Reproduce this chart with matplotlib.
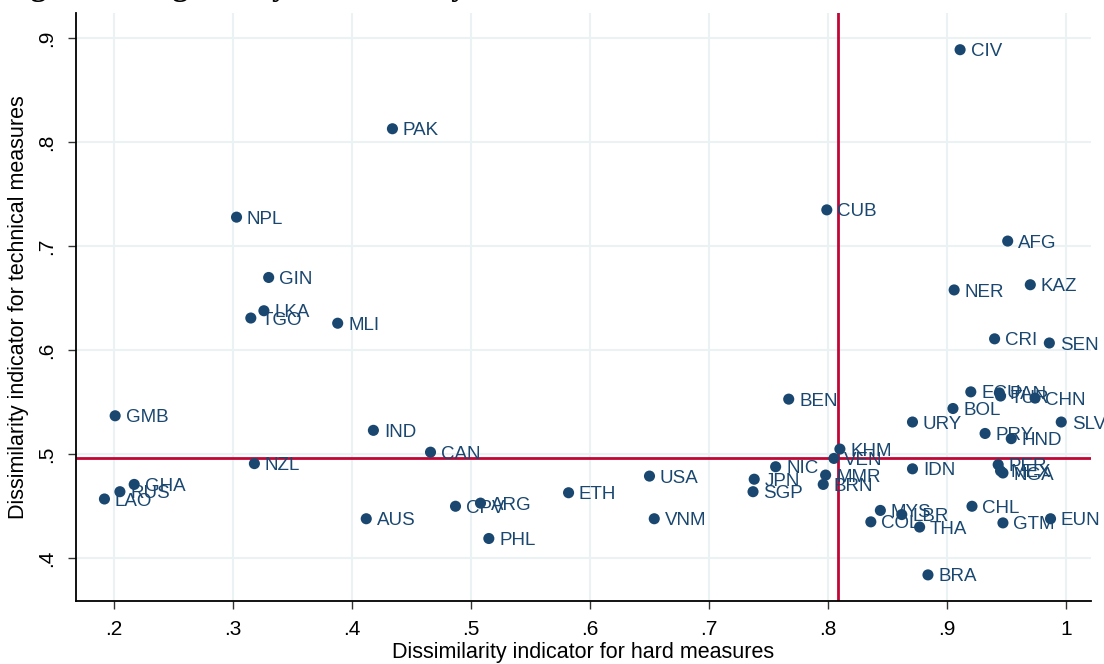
import matplotlib
matplotlib.use("Agg")
import matplotlib.pyplot as plt

# country codes and the two dissimilarity indicators
codes = ["CIV", "PAK", "NPL", "CUB", "AFG", "GIN", "NER", "KAZ", "LKA", "TGO",
         "MLI", "CRI", "SEN", "ECU", "PAN", "TUR", "CHN", "BEN", "BOL", "GMB",
         "SLV", "URY", "IND", "PRY", "HND", "KHM", "CAN", "VEN", "NZL", "NIC",
         "IDN", "PER", "MEX", "NGA", "USA", "MMR", "JPN", "BRN", "GHA", "SGP",
         "RUS", "ETH", "LAO", "ARG", "CPV", "CHL", "MYS", "LBR", "EUN", "AUS",
         "VNM", "COL", "GTM", "THA", "PHL", "BRA"]
hard = [0.911, 0.434, 0.303, 0.799, 0.951, 0.330, 0.906, 0.970, 0.326, 0.315,
        0.388, 0.940, 0.986, 0.920, 0.944, 0.945, 0.974, 0.767, 0.905, 0.201,
        0.996, 0.871, 0.418, 0.932, 0.954, 0.810, 0.466, 0.805, 0.318, 0.756,
        0.871, 0.943, 0.945, 0.947, 0.650, 0.798, 0.738, 0.796, 0.217, 0.737,
        0.205, 0.582, 0.192, 0.508, 0.487, 0.921, 0.844, 0.862, 0.987, 0.412,
        0.654, 0.836, 0.947, 0.877, 0.515, 0.884]
technical = [0.889, 0.813, 0.728, 0.735, 0.705, 0.670, 0.658, 0.663, 0.638, 0.631,
             0.626, 0.611, 0.607, 0.560, 0.559, 0.556, 0.554, 0.553, 0.544, 0.537,
             0.531, 0.531, 0.523, 0.520, 0.515, 0.505, 0.502, 0.496, 0.491, 0.488,
             0.486, 0.490, 0.484, 0.482, 0.479, 0.480, 0.476, 0.471, 0.471, 0.464,
             0.464, 0.463, 0.457, 0.453, 0.450, 0.450, 0.446, 0.442, 0.438, 0.438,
             0.438, 0.435, 0.434, 0.430, 0.419, 0.384]

mean_hard = 0.808
mean_technical = 0.4965

xticks = [0.2, 0.3, 0.4, 0.5, 0.6, 0.7, 0.8, 0.9, 1.0]
xticklabels = [".2", ".3", ".4", ".5", ".6", ".7", ".8", ".9", "1"]
yticks = [0.4, 0.5, 0.6, 0.7, 0.8, 0.9]
yticklabels = [".4", ".5", ".6", ".7", ".8", ".9"]

navy = "#1a476f"
red = "#c10534"
gridc = "#eaf2f3"

plt.rcParams["font.family"] = ["Liberation Sans", "DejaVu Sans"]

W, H = 1104, 664
fig = plt.figure(figsize=(W / 100, H / 100), dpi=100)
ax = fig.add_axes([76 / W, (H - 601) / H, (1091 - 76) / W, (601 - 13) / H])

ax.set_xlim(0.1681, 1.021)
ax.set_ylim(0.3589, 0.9243)

ax.set_xticks(xticks)
ax.set_xticklabels(xticklabels)
ax.set_yticks(yticks)
ax.set_yticklabels(yticklabels, rotation=90, va="center")
ax.tick_params(axis="both", direction="out", length=6, width=1, color="#333333",
               labelsize=15, pad=8)
ax.grid(True, color=gridc, linewidth=1.5)
ax.set_axisbelow(True)

for side in ["top", "right"]:
    ax.spines[side].set_visible(False)
for side in ["left", "bottom"]:
    ax.spines[side].set_linewidth(1.3)
    ax.spines[side].set_color("black")

ax.axvline(mean_hard, color=red, linewidth=2.0, zorder=2)
ax.axhline(mean_technical, color=red, linewidth=2.0, zorder=2)

ax.scatter(hard, technical, s=64, color=navy, edgecolors="none", zorder=3)
for c, x, y in zip(codes, hard, technical):
    ax.annotate(c, (x, y), xytext=(7.5, -1.5), textcoords="offset points",
                ha="left", va="center", fontsize=13.5, color=navy, zorder=4,
                annotation_clip=False)

ax.set_xlabel("Dissimilarity indicator for hard measures", fontsize=15.5, labelpad=2)
ax.set_ylabel("Dissimilarity indicator for technical measures", fontsize=15.5, labelpad=6)

# title sits above the canvas; only its descenders show, as in the source
fig.text(0.0015, 1 + 5 / H,
         "Figure 4: Regulatory dissimilarity indicators, hard vs. technical measures",
         fontsize=23, fontweight="bold", family=["Liberation Serif", "DejaVu Serif"],
         ha="left", va="baseline")

fig.savefig("out.png", dpi=100)
